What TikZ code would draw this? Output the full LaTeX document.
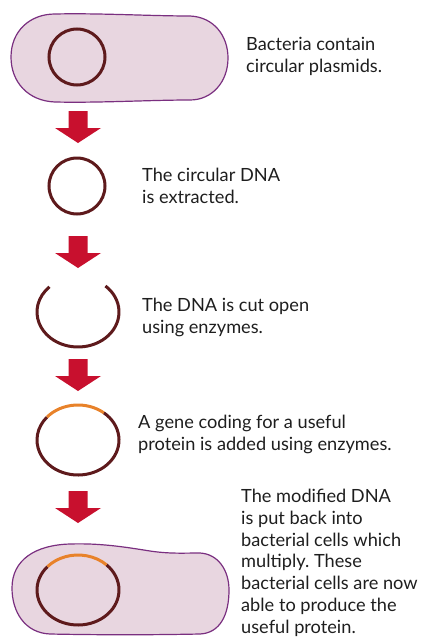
\documentclass[tikz,border=0pt]{standalone}
\usepackage{fontspec}
\setmainfont{Lato}
\usepackage{tikz}
\usetikzlibrary{positioning}
\frenchspacing
\definecolor{cellfill}{HTML}{E8D6E0}
\definecolor{celledge}{HTML}{7A2F80}
\definecolor{dnacol}{HTML}{5E1A1C}
\definecolor{genecol}{HTML}{E8822A}
\definecolor{arrowred}{HTML}{C8102E}
\definecolor{textcol}{HTML}{1E1E1E}
\tikzstyle{cell} = [fill=cellfill, draw=celledge, line width=1.2pt]
\tikzstyle{plasmid} = [circle, draw=dnacol, line width=3pt, minimum size=56pt, inner sep=0pt]
\tikzstyle{dna} = [draw=dnacol, line width=3pt]
\tikzstyle{gene} = [draw=genecol, line width=3pt]
% base of a multi-line node sits on its last line
\tikzstyle{caption} = [anchor=base west, align=left, inner sep=0pt, text=textcol, font=\fontsize{18.2}{21.7}\selectfont]

\begin{document}
\begin{tikzpicture}[x=1pt, y=-1pt]
			\useasboundingbox (0,0) rectangle (422,637);

			% first cell with its plasmid
			\path [cell] (11,57) .. controls (11,31) and (30,14) .. (55,14)
				.. controls (100,13) and (150,16) .. (190,16)
				.. controls (214,17) and (228,36) .. (228,58)
				.. controls (228,82) and (212,100) .. (190,100)
				.. controls (150,100) and (100,103) .. (55,102)
				.. controls (28,101) and (11,82) .. (11,57) -- cycle;
			\node [plasmid] (dna1) at (77,57) {};
			\node [caption] (t1) at (246,72) {Bacteria contain\\circular plasmids.};

			% plasmid taken out
			\node [plasmid] (dna2) at (77,186) {};
			\node [caption] (t2) at (142,203) {The circular DNA\\is extracted.};

			% cut open
			\coordinate (dna3) at (78,312);
			\path [dna] (dna3) ++(-48:41 and 35) arc [start angle=-48, end angle=226, x radius=41, y radius=35];
			\node [caption] (t3) at (142,333) {The DNA is cut open\\using enzymes.};

			% gene put in
			\coordinate (dna4) at (78,440);
			\path [dna] (dna4) ++(-51:41 and 35) arc [start angle=-51, end angle=221, x radius=41, y radius=35];
			\path [gene] (dna4) ++(221:41 and 35) arc [start angle=221, end angle=309, x radius=41, y radius=35];
			\node [caption] (t4) at (138,450) {A gene coding for a useful\\protein is added using enzymes.};

			% back in the cell
			\path [cell] (12,588) .. controls (12,560) and (35,545) .. (70,544)
				.. controls (100,543) and (125,547) .. (150,551)
				.. controls (170,554) and (185,553) .. (200,553)
				.. controls (218,554) and (229,570) .. (229,590)
				.. controls (229,615) and (220,633) .. (200,634)
				.. controls (150,635) and (100,635) .. (50,634)
				.. controls (25,633) and (12,612) .. (12,588) -- cycle;
			\coordinate (dna5) at (78,590);
			\path [dna] (dna5) ++(-46:41 and 35) arc [start angle=-46, end angle=222, x radius=41, y radius=35];
			\path [gene] (dna5) ++(222:41 and 35) arc [start angle=222, end angle=314, x radius=41, y radius=35];
			\node [caption] (t5) at (241,633) {The modified DNA\\is put back into\\bacterial cells which\\multiply. These\\bacterial cells are now\\able to produce the\\useful protein.};

			% block arrows between the steps
			\foreach \y in {111,236,359,491}
				\fill [arrowred] (68.5,\y) -- (87.5,\y) -- (87.5,\y+17) -- (101,\y+17) -- (78,\y+32)
					-- (55,\y+17) -- (68.5,\y+17) -- cycle;
		\end{tikzpicture}
\end{document}
